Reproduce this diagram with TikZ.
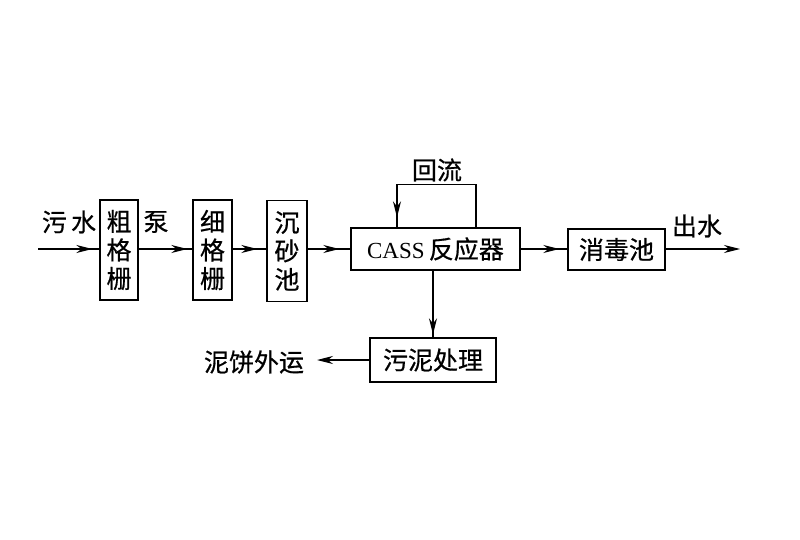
\documentclass[tikz,border=0pt]{standalone}
\usepackage{fontspec}
\newfontfamily\cjk[FakeBold=0.6]{Noto Sans CJK SC}
\newfontfamily\latin{Liberation Serif}
\usetikzlibrary{arrows.meta,decorations.markings}
\begin{document}
\begin{tikzpicture}[x=1pt,y=-1pt,>={Stealth[length=16pt,width=8pt]},
  box/.style={draw,line width=1.4pt,inner sep=0pt,align=center,
    font=\cjk\fontsize{25}{28.5}\selectfont},
  lbl/.style={inner sep=0pt,font=\cjk\fontsize{25}{28.5}\selectfont},
  flow/.style={line width=1.2pt},
  midarr/.style={postaction={decorate},decoration={markings,
    mark=at position #1 with {\arrow{Stealth[length=16pt,width=8pt]}}}}]
  \useasboundingbox[fill=white] (0,0) rectangle (800,540);

  % 方框
  \node[box,minimum width=38pt,minimum height=100pt] (cu) at (119,250) {粗\\格\\栅};
  \node[box,minimum width=39pt,minimum height=100pt] (xi) at (212.5,250) {细\\格\\栅};
  \node[box,minimum width=40pt,minimum height=101pt] (chen) at (287,251) {沉\\砂\\池};
  \node[box,minimum width=169pt,minimum height=42pt] (cass) at (435.5,249)
       {{\latin\fontsize{23}{28}\selectfont CASS}\,反应器};
  \node[box,minimum width=97pt,minimum height=41pt] (xd) at (616.5,249.5) {消毒池};
  \node[box,minimum width=126pt,minimum height=44pt] (wn) at (433,360) {污泥处理};

  % 标签
  \node[lbl] (wushui) at (69,222) {污\,水};
  \node[lbl] (beng) at (156,222) {泵};
  \node[lbl] (huiliu) at (437,170) {回流};
  \node[lbl] (chushui) at (697,226) {出水};
  \node[lbl] (nibing) at (254,362) {泥饼外运};

  % 连线
  \coordinate (in) at (38,249);
  \coordinate (out) at (740,249);
  \coordinate (cake) at (317,360);
  \draw[flow,midarr=-7pt] (in) -- (in -| cu.west);
  \draw[flow,midarr=-5pt] (cu.east |- in) -- (xi.west |- in);
  \draw[flow,midarr=-9pt] (xi.east |- in) -- (chen.west |- in);
  \draw[flow,midarr=-11pt] (chen.east |- in) -- (cass.west);
  \draw[flow,midarr=-8pt] (cass.east) -- (xd.west |- cass.east);
  \draw[flow,->] (xd.east |- out) -- (out);
  \draw[flow,midarr=-10pt] ([xshift=40.5pt]cass.north) -- ++(0,-43)
       -| ([xshift=-38.5pt]cass.north);
  \draw[flow,midarr=-3pt] (wn.north |- cass.south) -- (wn.north);
  \draw[flow,->] (wn.west) -- (cake);
\end{tikzpicture}
\end{document}
